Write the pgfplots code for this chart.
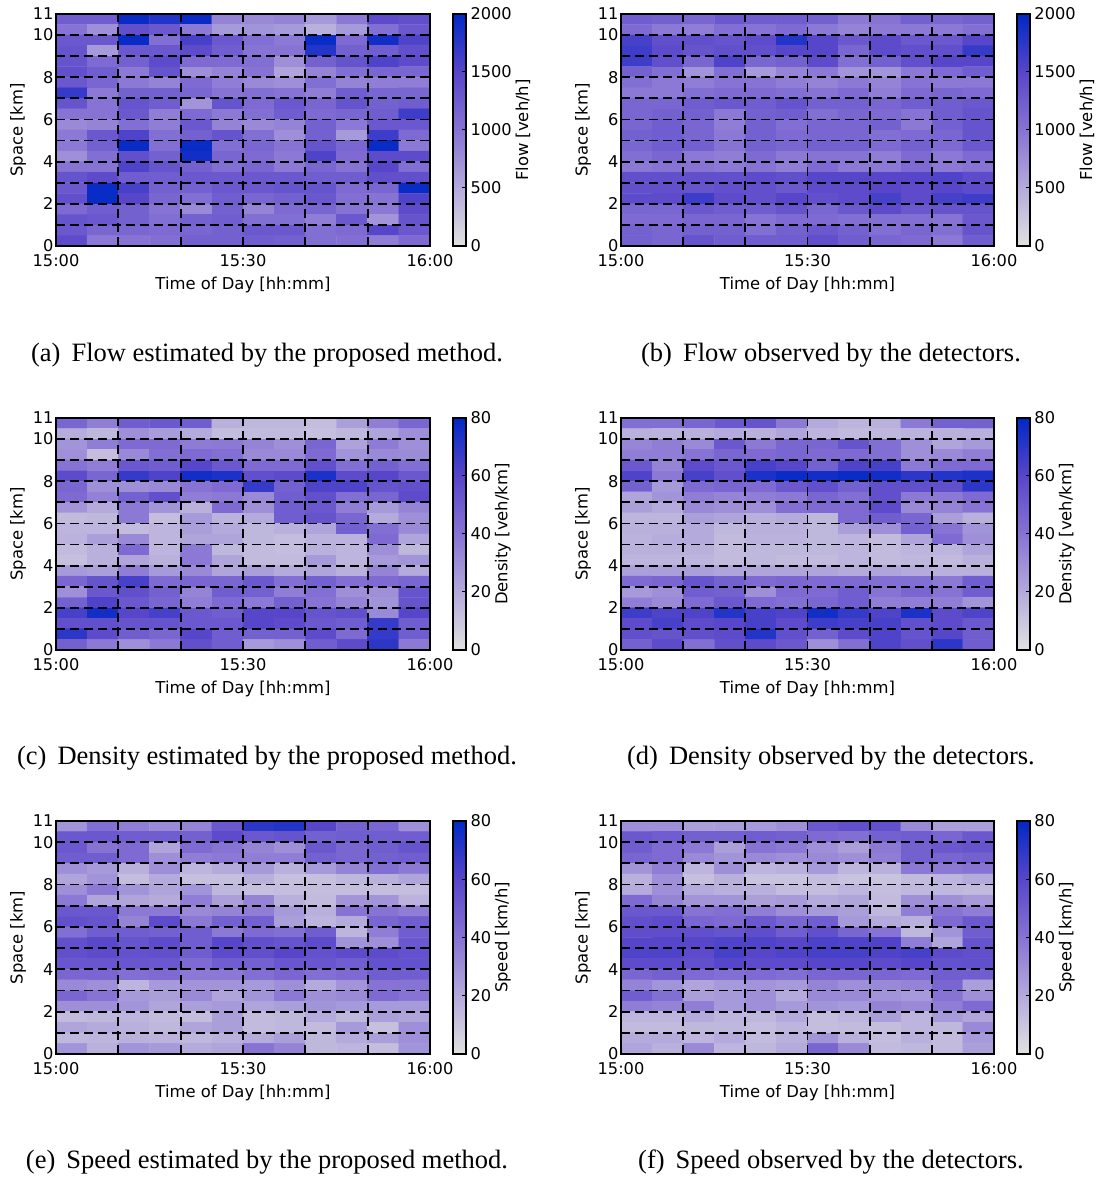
\documentclass[border=0pt]{standalone}
\usepackage{fontspec}
\setmainfont{DejaVu Sans}
\newfontfamily\capfont{Liberation Serif}
\usepackage{pgfplots}
\usepackage{pgfplotstable}
\pgfplotsset{compat=1.18}
\tikzset{griddash/.style={black,line width=1.8pt,dash pattern=on 9pt off 5pt}}
\pgfplotstableread[row sep=\\]{v\\
1250\\1250\\1950\\1800\\1950\\850\\800\\850\\650\\950\\1450\\1400\\
1000\\750\\1400\\1300\\950\\650\\700\\650\\450\\650\\1050\\1300\\
1300\\1300\\1950\\1050\\1600\\1300\\1050\\950\\1950\\1100\\1900\\1550\\
1350\\650\\1300\\1300\\1450\\1250\\1000\\1000\\1800\\1200\\1250\\1400\\
1350\\1100\\1200\\1450\\1100\\1100\\1050\\750\\1200\\1350\\1550\\1450\\
1400\\1250\\950\\1350\\750\\850\\1000\\550\\850\\1050\\1150\\1150\\
1300\\1150\\950\\850\\1100\\900\\800\\750\\1050\\850\\900\\900\\
1700\\950\\1200\\1200\\1150\\1000\\1050\\1000\\900\\1250\\1150\\1150\\
1350\\1000\\1350\\1250\\700\\1350\\1100\\1300\\1150\\1350\\1200\\1250\\
1000\\1000\\1300\\900\\1100\\950\\1050\\1250\\1100\\1150\\1250\\1650\\
800\\850\\1050\\900\\1300\\850\\800\\850\\1200\\950\\1300\\1300\\
950\\1300\\1550\\1050\\1200\\1350\\1050\\750\\1200\\650\\1650\\1100\\
950\\1200\\1950\\1050\\1950\\1050\\1150\\1000\\1350\\1150\\1950\\950\\
750\\1050\\1400\\1200\\1900\\1150\\1100\\950\\1550\\1100\\1450\\1450\\
1000\\1000\\1550\\1350\\1200\\1050\\1150\\950\\1150\\1000\\1500\\1050\\
1350\\1450\\1250\\1250\\1300\\1300\\1300\\1300\\1250\\1250\\1400\\1400\\
1300\\1950\\1600\\1200\\1200\\1300\\1300\\1350\\1350\\1100\\1150\\1950\\
1400\\1950\\1500\\1150\\1050\\1250\\1150\\1200\\1300\\1050\\1000\\1550\\
1100\\1250\\1200\\1000\\800\\1200\\850\\1100\\1150\\1000\\950\\1450\\
1350\\1300\\1200\\1050\\1200\\1250\\1050\\1050\\900\\1300\\700\\1350\\
1300\\1150\\1150\\1100\\1150\\1200\\1300\\1300\\1050\\1100\\1500\\1300\\
1450\\950\\1000\\1050\\1200\\1200\\1250\\1200\\1050\\1050\\900\\1100\\
}\flowA
\pgfplotstableread[row sep=\\]{v\\
1250\\1200\\1150\\1300\\1250\\1250\\1200\\950\\1000\\1200\\1150\\1200\\
1100\\950\\900\\1050\\1000\\1100\\950\\850\\950\\950\\950\\1050\\
1600\\1400\\1400\\1350\\1450\\1800\\1500\\1300\\1450\\1300\\1300\\1500\\
1650\\1450\\1350\\1400\\1400\\1500\\1500\\1150\\1450\\1400\\1400\\1700\\
1650\\1400\\1150\\1550\\1150\\1200\\1450\\1050\\1200\\1400\\1500\\1500\\
1200\\1050\\700\\1050\\650\\850\\950\\700\\700\\950\\1100\\1250\\
1050\\950\\900\\1000\\1000\\900\\850\\950\\850\\1000\\950\\950\\
950\\950\\1050\\1100\\1100\\1050\\1000\\1100\\900\\1100\\1150\\1100\\
1150\\1150\\1250\\1300\\1250\\1350\\1200\\1200\\1150\\1250\\1250\\1300\\
1150\\1200\\1200\\950\\1200\\1250\\1050\\1150\\1100\\1000\\1250\\1350\\
1150\\1250\\1150\\900\\1200\\1050\\1150\\1150\\1200\\950\\1200\\1350\\
1200\\1250\\1150\\950\\1200\\1100\\1150\\1150\\1050\\1100\\1150\\1350\\
1150\\1250\\1200\\1000\\1200\\1150\\1200\\1200\\1100\\1200\\1100\\1300\\
1050\\1150\\950\\900\\1100\\950\\1000\\1000\\900\\1100\\950\\1100\\
950\\1000\\1000\\950\\1000\\900\\1100\\950\\950\\1100\\950\\1000\\
1400\\1400\\1400\\1400\\1450\\1400\\1500\\1500\\1500\\1500\\1550\\1450\\
1400\\1400\\1350\\1400\\1400\\1300\\1450\\1450\\1500\\1450\\1500\\1450\\
1450\\1450\\1650\\1450\\1400\\1500\\1400\\1450\\1600\\1450\\1600\\1650\\
1150\\1150\\1300\\1250\\1250\\1350\\1150\\1300\\1450\\1300\\1350\\1350\\
1100\\1100\\1150\\1150\\1000\\1100\\1100\\1050\\1050\\1050\\1000\\1300\\
1200\\1150\\1200\\1200\\1050\\1200\\1300\\1200\\1050\\1150\\1050\\1350\\
1200\\1150\\1350\\1250\\1250\\1250\\1400\\1250\\1150\\1100\\950\\1250\\
}\flowB
\pgfplotstableread[row sep=\\]{v\\
46\\36\\50\\52\\50\\18\\15\\15\\13\\24\\36\\46\\
19\\15\\30\\25\\20\\13\\14\\14\\12\\15\\22\\30\\
28\\36\\44\\44\\37\\38\\34\\30\\46\\23\\37\\30\\
30\\13\\32\\42\\44\\42\\32\\32\\44\\28\\32\\31\\
40\\36\\52\\50\\60\\52\\44\\44\\56\\42\\48\\42\\
58\\46\\68\\62\\76\\74\\56\\58\\74\\58\\60\\52\\
46\\30\\30\\32\\40\\44\\68\\48\\62\\62\\54\\56\\
44\\35\\48\\56\\36\\38\\32\\50\\56\\42\\46\\58\\
28\\20\\38\\28\\18\\44\\30\\50\\52\\36\\26\\34\\
14\\15\\38\\13\\26\\17\\20\\50\\54\\46\\20\\30\\
16\\16\\14\\16\\24\\20\\15\\18\\22\\48\\42\\32\\
17\\24\\32\\16\\22\\22\\15\\13\\17\\17\\44\\22\\
14\\18\\44\\16\\38\\15\\14\\13\\18\\16\\30\\15\\
12\\18\\22\\18\\38\\22\\14\\14\\26\\16\\26\\28\\
26\\24\\36\\26\\32\\22\\24\\20\\22\\18\\34\\20\\
46\\54\\64\\44\\46\\46\\52\\42\\48\\42\\44\\46\\
30\\52\\56\\48\\34\\50\\48\\36\\42\\30\\30\\54\\
48\\62\\52\\46\\36\\44\\38\\48\\40\\34\\28\\54\\
64\\76\\60\\64\\52\\50\\60\\60\\54\\56\\32\\60\\
56\\56\\54\\54\\52\\52\\60\\58\\52\\50\\68\\50\\
70\\58\\50\\46\\60\\50\\48\\48\\58\\44\\68\\50\\
48\\38\\30\\38\\56\\50\\26\\30\\50\\58\\70\\38\\
}\densA
\pgfplotstableread[row sep=\\]{v\\
42\\42\\46\\52\\54\\38\\20\\16\\18\\38\\48\\48\\
18\\17\\18\\20\\18\\22\\16\\14\\15\\17\\18\\18\\
33\\36\\32\\52\\38\\46\\46\\54\\42\\30\\22\\26\\
36\\36\\40\\46\\44\\46\\44\\44\\42\\30\\32\\36\\
52\\34\\58\\52\\64\\60\\48\\62\\64\\38\\44\\44\\
62\\38\\64\\56\\74\\78\\76\\78\\76\\70\\72\\74\\
48\\26\\44\\46\\44\\52\\56\\48\\56\\56\\56\\70\\
22\\28\\36\\34\\36\\38\\46\\42\\56\\38\\38\\44\\
24\\20\\32\\30\\30\\42\\44\\44\\58\\32\\34\\40\\
16\\16\\24\\22\\18\\20\\15\\44\\50\\46\\24\\18\\
18\\18\\20\\15\\18\\18\\15\\24\\30\\48\\40\\28\\
17\\19\\20\\14\\17\\17\\15\\16\\14\\22\\44\\30\\
18\\18\\18\\14\\15\\15\\15\\16\\14\\16\\16\\22\\
16\\16\\16\\14\\15\\14\\14\\16\\14\\15\\14\\18\\
24\\24\\24\\22\\22\\22\\22\\20\\22\\20\\18\\18\\
44\\46\\54\\48\\44\\46\\44\\44\\42\\42\\38\\50\\
26\\30\\50\\48\\30\\44\\44\\50\\40\\46\\40\\50\\
36\\32\\44\\52\\44\\42\\46\\50\\36\\36\\36\\28\\
66\\62\\62\\72\\64\\62\\76\\68\\62\\74\\58\\62\\
58\\64\\58\\60\\64\\58\\66\\64\\64\\56\\58\\52\\
56\\54\\56\\58\\72\\56\\48\\58\\62\\54\\60\\50\\
48\\58\\42\\56\\58\\52\\30\\42\\62\\56\\70\\50\\
}\densB
\pgfplotstableread[row sep=\\]{v\\
28\\42\\36\\32\\34\\52\\70\\72\\60\\48\\46\\30\\
52\\52\\50\\50\\48\\58\\52\\54\\48\\50\\50\\50\\
52\\40\\44\\22\\44\\40\\34\\30\\52\\46\\50\\54\\
50\\50\\44\\30\\36\\38\\36\\36\\48\\46\\48\\50\\
30\\26\\18\\30\\16\\20\\26\\18\\26\\34\\42\\38\\
22\\28\\13\\20\\12\\12\\18\\12\\12\\15\\18\\22\\
30\\38\\28\\22\\28\\15\\12\\13\\13\\13\\13\\13\\
38\\22\\22\\20\\36\\24\\34\\18\\14\\28\\28\\17\\
52\\52\\38\\38\\32\\34\\36\\26\\18\\40\\40\\36\\
56\\54\\34\\58\\38\\48\\48\\24\\16\\20\\46\\50\\
42\\50\\50\\48\\50\\38\\44\\42\\50\\16\\36\\50\\
56\\59\\54\\58\\50\\60\\56\\54\\58\\28\\30\\52\\
56\\58\\55\\56\\50\\58\\56\\60\\55\\58\\58\\55\\
53\\53\\53\\52\\44\\50\\48\\53\\53\\50\\55\\55\\
46\\46\\42\\44\\38\\38\\42\\46\\42\\44\\50\\50\\
32\\30\\16\\26\\28\\28\\26\\30\\20\\28\\40\\40\\
46\\40\\26\\24\\32\\22\\28\\38\\30\\32\\44\\40\\
30\\30\\28\\22\\24\\26\\22\\24\\28\\26\\26\\26\\
14\\15\\16\\14\\13\\24\\14\\15\\20\\15\\24\\22\\
22\\20\\18\\15\\22\\24\\14\\15\\14\\26\\12\\30\\
15\\16\\18\\17\\15\\18\\20\\24\\15\\20\\24\\30\\
28\\18\\28\\26\\20\\22\\40\\34\\15\\16\\13\\28\\
}\speedA
\pgfplotstableread[row sep=\\]{v\\
30\\30\\24\\25\\26\\30\\52\\56\\56\\32\\24\\24\\
52\\50\\48\\48\\50\\48\\44\\42\\48\\50\\46\\52\\
50\\44\\38\\24\\40\\38\\30\\24\\38\\48\\52\\54\\
46\\44\\32\\28\\32\\30\\32\\30\\36\\48\\46\\48\\
28\\36\\16\\30\\16\\18\\26\\16\\18\\38\\38\\40\\
18\\30\\12\\18\\11\\11\\13\\11\\11\\14\\16\\20\\
20\\30\\20\\18\\18\\13\\13\\16\\13\\15\\15\\14\\
44\\34\\28\\28\\24\\26\\20\\22\\14\\30\\30\\26\\
52\\52\\40\\42\\36\\30\\26\\24\\15\\36\\40\\36\\
56\\58\\46\\44\\52\\46\\50\\26\\20\\18\\44\\52\\
57\\57\\56\\54\\57\\50\\56\\46\\40\\15\\28\\50\\
60\\60\\60\\62\\62\\60\\63\\62\\62\\36\\22\\54\\
62\\62\\58\\64\\60\\62\\64\\64\\62\\64\\58\\56\\
58\\58\\56\\60\\58\\58\\60\\60\\58\\60\\55\\56\\
46\\48\\44\\42\\44\\42\\46\\46\\46\\44\\50\\50\\
34\\28\\22\\26\\28\\26\\34\\30\\32\\34\\46\\24\\
50\\42\\24\\26\\30\\20\\32\\32\\28\\26\\40\\30\\
36\\34\\36\\26\\30\\26\\28\\26\\34\\32\\36\\44\\
16\\16\\20\\16\\15\\20\\13\\16\\24\\16\\26\\22\\
14\\14\\15\\15\\13\\16\\13\\14\\13\\16\\15\\32\\
20\\20\\16\\20\\14\\18\\28\\18\\13\\18\\14\\26\\
22\\18\\32\\16\\15\\20\\46\\32\\14\\15\\14\\24\\
}\speedB
\pgfplotsset{
  /pgf/number format/assume math mode=true,
  colormap={traffic}{rgb255=(225,225,225) rgb255=(180,170,220) rgb255=(135,115,212) rgb255=(88,70,202) rgb255=(0,40,198)},
  heat/.style={
    scale only axis, axis on top, anchor=south west,
    xmin=0,xmax=60,ymin=0,ymax=11,
    xtick={0,10,...,60},
    xticklabels={15:00,,,15:30,,,16:00},
    ytick={0,1,...,11},
    yticklabels={0,,2,,4,,6,,8,,10,11},
    tick align=inside, major tick length=4pt,
    tick style={black,line width=1pt},
    axis line style={line width=1.3pt,black},
    ticklabel style={font=\fontsize{16.2}{18}\selectfont},
    label style={font=\fontsize{16.4}{18}\selectfont},
    xlabel={Time of Day [hh:mm]}, ylabel={Space [km]},
    xticklabel style={yshift=-5pt},
    yticklabel style={xshift=1pt},
    xlabel style={yshift=-3pt},
    ylabel style={yshift=0pt},
    colorbar,
    point meta min=0,
  }
}
\newcommand{\panel}[8]{%
\begin{axis}[heat,at={(#1pt,#2pt)},width=#3pt,height=#4pt,point meta max=#6,
  colorbar style={
    at={(1.0615,0)},anchor=south west,
    width=13pt,height=#4pt,
    ytick={#7},
    scaled y ticks=false,
    yticklabel style={/pgf/number format/1000 sep={},xshift=1pt},
    ytick pos=right,
    tick align=inside, major tick length=4pt,
    tick style={black,line width=1pt},
    axis line style={line width=1.3pt,black},
    ylabel={#8},
    xlabel={},
    ylabel style={font=\fontsize{16.4}{18}\selectfont,yshift=3pt},
    xtick=\empty,
    xticklabels={},
    yticklabels={},
    yticklabel={\pgfmathprintnumber{\tick}},
  }]
\addplot[matrix plot*,mesh/cols=12,mesh/rows=22,point meta=\thisrow{v}]
  table[x index=0,y index=0,
    x expr={5*(\coordindex-12*floor((\coordindex+0.5)/12))+2.5},
    y expr={10.75-0.5*floor((\coordindex+0.5)/12)}] {#5};
\pgfplotsinvokeforeach{10,20,30,40,50}{\draw[griddash] (axis cs:##1,0)--(axis cs:##1,11);}
\pgfplotsinvokeforeach{1,2,...,10}{\draw[griddash] (axis cs:0,##1)--(axis cs:60,##1);}
\end{axis}
}
\newcommand{\capt}[3]{\node[font=\capfont\fontsize{26.5}{28}\selectfont,anchor=base] at (#1pt,#2pt) {#3};}
\begin{document}
\begin{tikzpicture}[x=1pt,y=1pt]
\useasboundingbox (0,0) rectangle (1101,1177);
\panel{56}{931}{374}{232}{\flowA}{2000}{0,500,...,2000}{Flow [veh/h]}
\panel{621}{931}{373}{232}{\flowB}{2000}{0,500,...,2000}{Flow [veh/h]}
\panel{56}{527}{374}{232}{\densA}{80}{0,20,...,80}{Density [veh/km]}
\panel{621}{527}{373}{232}{\densB}{80}{0,20,...,80}{Density [veh/km]}
\panel{56}{123}{374}{233}{\speedA}{80}{0,20,...,80}{Speed [km/h]}
\panel{621}{123}{373}{233}{\speedB}{80}{0,20,...,80}{Speed [km/h]}
\capt{267}{815.5}{(a)\ \,Flow estimated by the proposed method.}
\capt{831}{815.5}{(b)\ \,Flow observed by the detectors.}
\capt{267}{412.5}{(c)\ \,Density estimated by the proposed method.}
\capt{831}{412.5}{(d)\ \,Density observed by the detectors.}
\capt{267}{8.5}{(e)\ \,Speed estimated by the proposed method.}
\capt{831}{8.5}{(f)\ \,Speed observed by the detectors.}
\end{tikzpicture}
\end{document}
